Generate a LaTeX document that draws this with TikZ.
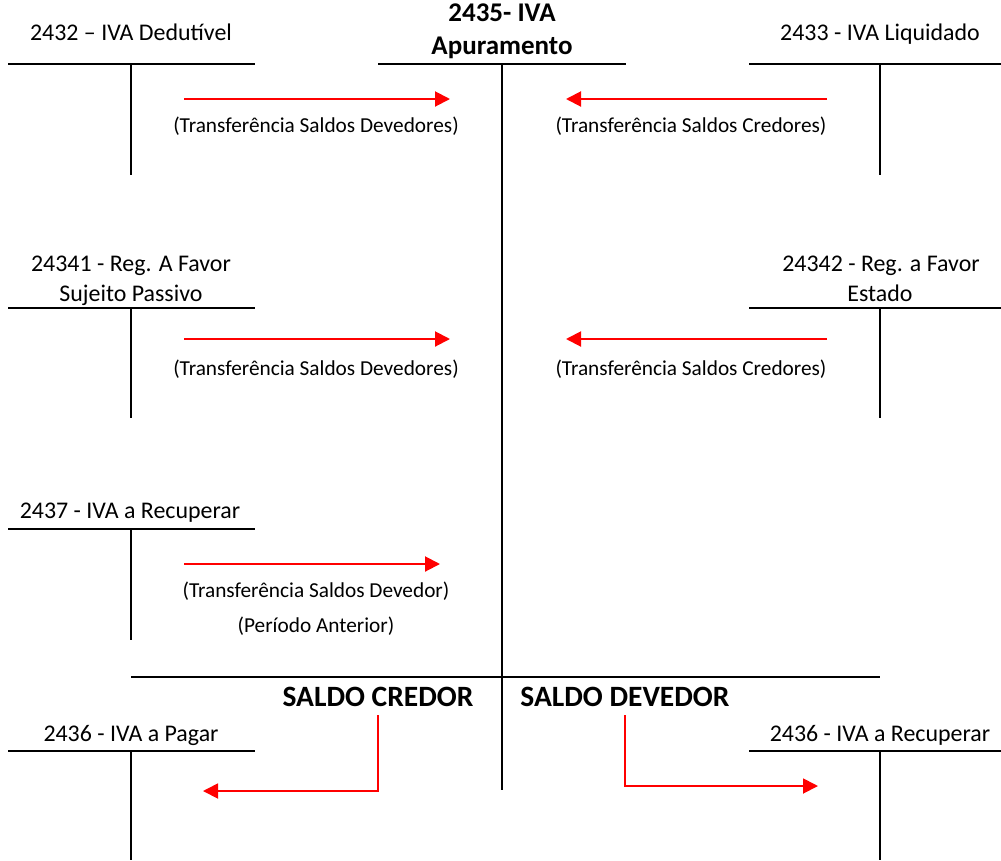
\documentclass[tikz,border=0pt]{standalone}
\usepackage{fontspec}
\setmainfont{Carlito}
\usetikzlibrary{arrows.meta}
\begin{document}
\begin{tikzpicture}[x=1pt,y=-1pt,
  acct/.style={line width=2pt,black},
  flow/.style={line width=2pt,red,-{Triangle[length=15pt,width=15pt]}},
  elbow/.style={line width=1.8pt,red,-{Triangle[length=15pt,width=15pt]}},
  lbl/.style={anchor=base,inner sep=0pt,font=\fontsize{23.9}{28}\selectfont},
  note/.style={anchor=base,inner sep=0pt,font=\fontsize{21.3}{25}\selectfont},
  ttl/.style={anchor=base,inner sep=0pt,font=\bfseries\fontsize{27}{31}\selectfont},
  big/.style={anchor=base,inner sep=0pt,font=\bfseries\fontsize{29.5}{34}\selectfont}]
\useasboundingbox (0,0) rectangle (1001,860);
% central account 2435
\node[ttl] (t1) at (502,21) {2435- IVA};
\node[ttl] (t2) at (502,54) {Apuramento};
\draw[acct] (378,64) -- (626,64);
\draw[acct] (502,64) -- (502,790);
\draw[acct] (131,677) -- (880,677);
\node[big] (sc) at (378,706) {SALDO CREDOR};
\node[big] (sd) at (625,706) {SALDO DEVEDOR};
% 2432
\node[lbl] (a1) at (131,40) {2432 – IVA Dedutível};
\draw[acct] (8,64) -- (255,64);
\draw[acct] (131,64) -- (131,175);
% 2433
\node[lbl] (a2) at (880,40) {2433 - IVA Liquidado};
\draw[acct] (749,64) -- (1001,64);
\draw[acct] (880,64) -- (880,175);
% row 1 arrows
\coordinate (r1s) at (184,99); \coordinate (r1e) at (450,99);
\coordinate (l1s) at (827,99); \coordinate (l1e) at (566,99);
\draw[flow] (r1s) -- (r1e);
\draw[flow] (l1s) -- (l1e);
\node[note] (n1) at (316,132) {(Transferência Saldos Devedores)};
\node[note] (n2) at (691,132) {(Transferência Saldos Credores)};
% 24341
\node[lbl] (b1) at (131,271) {24341 - Reg. A Favor};
\node[lbl] (b1b) at (131,301) {Sujeito Passivo};
\draw[acct] (8,308) -- (255,308);
\draw[acct] (131,308) -- (131,418);
% 24342
\node[lbl] (b2) at (881,271) {24342 - Reg. a Favor};
\node[lbl] (b2b) at (880,301) {Estado};
\draw[acct] (749,308) -- (1001,308);
\draw[acct] (880,308) -- (880,418);
% row 2 arrows
\coordinate (r2s) at (184,339); \coordinate (r2e) at (450,339);
\coordinate (l2s) at (827,339); \coordinate (l2e) at (566,339);
\draw[flow] (r2s) -- (r2e);
\draw[flow] (l2s) -- (l2e);
\node[note] (n3) at (316,375) {(Transferência Saldos Devedores)};
\node[note] (n4) at (691,375) {(Transferência Saldos Credores)};
% 2437
\node[lbl] (c1) at (130,518) {2437 - IVA a Recuperar};
\draw[acct] (8,529) -- (255,529);
\draw[acct] (131,529) -- (131,640);
\coordinate (r3s) at (184,564); \coordinate (r3e) at (440,564);
\draw[flow] (r3s) -- (r3e);
\node[note] (n5) at (316,597) {(Transferência Saldos Devedor)};
\node[note] (n6) at (316,632) {(Período Anterior)};
% 2436 a pagar
\node[lbl] (d1) at (131,741) {2436 - IVA a Pagar};
\draw[acct] (8,751) -- (255,751);
\draw[acct] (131,751) -- (131,860);
% 2436 a recuperar
\node[lbl] (d2) at (880,741) {2436 - IVA a Recuperar};
\draw[acct] (749,751) -- (1001,751);
\draw[acct] (880,751) -- (880,860);
% saldo arrows
\coordinate (ce) at (203,791);
\coordinate (de) at (818,786);
\draw[elbow] (sc.south |- 0,715) |- (ce);
\draw[elbow] (sd.south |- 0,715) |- (de);
\end{tikzpicture}
\end{document}
